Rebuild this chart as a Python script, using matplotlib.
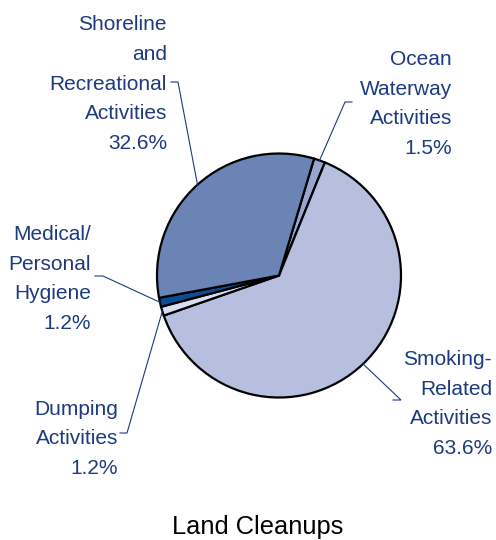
import numpy as np
import matplotlib.pyplot as plt

plt.rcParams['font.family'] = ['Liberation Sans', 'DejaVu Sans']

# shares of debris by source, in clockwise order starting at the top
names = ['Ocean\nWaterway\nActivities', 'Smoking-\nRelated\nActivities',
         'Dumping\nActivities', 'Medical/\nPersonal\nHygiene',
         'Shoreline\nand\nRecreational\nActivities']
shares = [1.5, 63.6, 1.2, 1.2, 32.6]
colors = ['#97a6cf', '#b6c0de', '#d9def0', '#0b4d92', '#6a84b5']

navy = '#1d3a80'
H = 540  # figure height in pixels, labels are placed from the top

fig = plt.figure(figsize=(4.96, 5.40), dpi=100)
ax = fig.add_axes([0, 0, 1, 1])

cx, cy, R = 279, H - 275.5, 122
wedges, _ = ax.pie(shares, colors=colors, startangle=73.3, counterclock=False,
                   center=(cx, cy), radius=R,
                   wedgeprops=dict(edgecolor='black', linewidth=1.6))
ax.set_xlim(0, 496)
ax.set_ylim(0, H)
ax.set_aspect('equal')
ax.axis('off')

# label anchor (right edge x, block centre y) and leader tick (x0, x1, y)
label_pos = [(452, 104), (492, 404), (118, 439), (91, 279), (167, 84)]
ticks = [(352, 345, 102), (393, 401, 400), (120, 127, 433),
         (95, 103, 276), (171, 178, 82)]

for w, name, val, (lx, ly), (tx0, tx1, ty) in zip(wedges, names, shares,
                                                   label_pos, ticks):
    ax.text(lx, H - ly, f'{name}\n{val}%', ha='right', va='center',
            multialignment='right', color=navy, fontsize=15, linespacing=1.72)
    mid = np.deg2rad((w.theta1 + w.theta2) / 2)
    ex, ey = cx + R * np.cos(mid), cy + R * np.sin(mid)
    ax.plot([tx0, tx1, ex], [H - ty, H - ty, ey], color=navy, lw=0.8,
            solid_joinstyle='miter')

ax.text(258, H - 527, 'Land Cleanups', ha='center', va='center',
        fontsize=18.3, color='black')

fig.savefig('out.png', dpi=100)
